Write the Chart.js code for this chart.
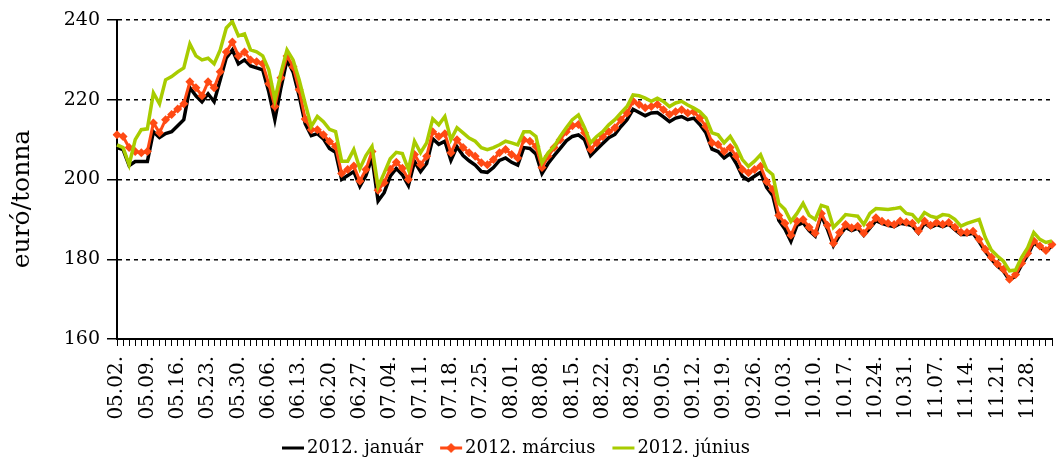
<!DOCTYPE html>
<html>
<head>
<meta charset="utf-8">
<script src="https://cdn.jsdelivr.net/npm/chart.js@4/dist/chart.umd.min.js"></script>
<style>
  html, body { margin: 0; padding: 0; background: #fff; }
  #wrap { width: 1063px; height: 463px; position: relative; }
</style>
</head>
<body>
<div id="wrap"><canvas id="chart"></canvas></div>
<script>
// weekly tick labels (one every 5 trading days)
const weekLabels = ['05.02.', '05.09.', '05.16.', '05.23.', '05.30.', '06.06.', '06.13.', '06.20.', '06.27.',
  '07.04.', '07.11.', '07.18.', '07.25.', '08.01.', '08.08.', '08.15.', '08.22.', '08.29.', '09.05.',
  '09.12.', '09.19.', '09.26.', '10.03.', '10.10.', '10.17.', '10.24.', '10.31.', '11.07.', '11.14.',
  '11.21.', '11.28.'];

const seriesNames = ['2012. január', '2012. március', '2012. június'];

// euró/tonna, daily closing prices
const januar = [
  208, 207.5, 203.5, 204.5, 204.5, 204.5, 212, 210.5, 211.5, 212,
  213.5, 215, 223, 221, 219.5, 221.5, 219.5, 225, 230.5, 232.5,
  229, 230, 228.5, 228, 227.5, 222, 215, 223, 230, 227,
  221, 214, 211, 211.5, 210.2, 207.8, 206.8, 200, 201, 202,
  198.3, 201, 205.5, 194.6, 196.7, 200.8, 202.8, 201.2, 198.5, 204.5,
  202, 204, 210.2, 208.8, 209.6, 204.8, 208.2, 206, 204.7, 203.6,
  202, 201.8, 203, 204.8, 205.4, 204.3, 203.6, 208, 207.8, 206.4,
  201.5, 204, 206, 207.8, 209.7, 210.8, 211.2, 210, 206, 207.5,
  209, 210.5, 211.3, 213.3, 215, 217.6, 216.8, 216, 216.7, 216.8,
  215.7, 214.5, 215.4, 215.8, 215, 215.4, 213.8, 211.7, 207.6, 207,
  205.4, 206.5, 204, 200.8, 199.8, 200.8, 201.8, 198, 196, 189.8,
  187.6, 184.5, 188.5, 189.2, 187.2, 185.8, 191, 187.6, 183.4, 186,
  188, 187.2, 187.8, 186, 187.8, 189.7, 189, 188.5, 188.2, 189,
  188.8, 188.4, 186.6, 189, 188, 188.7, 188.2, 188.8, 187.4, 186.2,
  186.2, 186.5, 184.4, 182, 180, 178.3, 177, 174.8, 175.8, 178.6,
  181, 184.2, 183, 182, 183.4
];

const marcius = [
  211.2, 210.8, 208, 207, 206.7, 207, 214.2, 211.7, 215, 216.3,
  217.7, 219, 224.5, 223, 221, 224.5, 223, 227, 232, 234.5,
  231, 232, 230, 229.5, 229, 224, 218.3, 225.5, 231, 228.3,
  222.5, 215.2, 212.5, 212.5, 211.2, 209.5, 208.3, 201.5, 202.5, 203.4,
  199.6, 202.5, 207, 197.3, 199.2, 202.6, 204.3, 202.8, 200, 206.3,
  203.7, 205.8, 212, 210.8, 211.5, 206.7, 210, 208, 206.7, 205.8,
  204.2, 203.7, 205, 206.7, 207.5, 206.3, 205.4, 210, 209.6, 208.3,
  203, 205.8, 208, 210, 212, 213.5, 213.8, 211.7, 207.5, 209.2,
  210.8, 212, 213, 215, 216.7, 219.6, 218.8, 218, 218.3, 218.8,
  217.5, 216.3, 217, 217.5, 216.7, 217, 215.4, 213.3, 209.2, 208.8,
  207, 208, 205.8, 202.5, 201.7, 202.5, 203.3, 199.5, 197.5, 191,
  189, 186, 189.5, 190, 188, 186.5, 191.5, 188.5, 184, 186.7,
  188.7, 187.9, 188.3, 186.5, 188.5, 190.4, 189.5, 189, 188.7, 189.6,
  189.3, 189, 187.1, 189.6, 188.5, 189.2, 188.8, 189.2, 188, 186.8,
  186.7, 187, 185, 182.5, 180.5, 178.8, 177.5, 175, 176.2, 179,
  181.5, 184.6, 183.3, 182.2, 183.7
];

const junius = [
  208.7, 208, 203.7, 210, 212.5, 212.7, 221.7, 219, 225, 225.8,
  227, 228, 234, 231, 230, 230.4, 229, 232.5, 238, 239.6,
  236, 236.5, 232.5, 232, 231, 227.5, 220, 226.7, 232.5, 230,
  225, 219, 213.3, 215.8, 214.5, 212.6, 212, 204.6, 204.6, 207.5,
  202.7, 206, 208.3, 198.2, 201.6, 205.2, 206.8, 206.5, 202.5, 209.6,
  206.7, 209.2, 215.2, 213.7, 215.8, 210, 213, 211.7, 210.4, 209.6,
  208, 207.5, 208, 208.7, 209.6, 209.2, 208.7, 212, 212, 210.8,
  204.2, 206.7, 208.3, 210.8, 213, 215, 216.2, 213, 209.2, 210.8,
  212, 213.7, 215, 216.7, 218.3, 221.2, 221, 220.4, 219.6, 220.4,
  219.6, 218.3, 219.2, 219.6, 218.7, 217.9, 217, 215.4, 211.7, 211.2,
  209.2, 210.8, 208.3, 205, 203.3, 204.6, 206.2, 202.5, 201.2, 194,
  192.5, 189.5, 191.5, 194, 191, 190, 193.5, 193, 188, 189.5,
  191.2, 191, 190.8, 188.7, 191.5, 192.7, 192.6, 192.5, 192.7, 193,
  191.5, 191.2, 189.5, 191.7, 190.8, 190.4, 191.2, 191, 190, 188.3,
  189, 189.5, 190, 185.5, 182.3, 180.8, 179.5, 177.1, 177.3, 180.5,
  182.9, 186.7, 185, 184.2, 184.6
];

const yTicks = [160, 180, 200, 220, 240];

const BLACK = '#000000';
const ORANGE = '#FF4A14';
const GREEN = '#A8CC00';
const FONT = 'DejaVu Serif';

// category for every trading day, label only on the weekly ones
const days = januar.map((v, i) => (i % 5 === 0 ? weekLabels[i / 5] : ''));

// legend icons: a short line (the middle one with a diamond), drawn in the right part
// of a wider canvas so the gap to the previous entry looks like the original
function legendIcon(color, diamond) {
  const c = document.createElement('canvas');
  c.width = 44; c.height = 12;
  const g = c.getContext('2d');
  g.fillStyle = color;
  g.fillRect(20, 4.5, 22, 3);
  if (diamond) {
    g.beginPath();
    g.moveTo(31, 1); g.lineTo(36, 6); g.lineTo(31, 11); g.lineTo(26, 6);
    g.closePath();
    g.fill();
  }
  return c;
}
const legendIcons = [legendIcon(BLACK, false), legendIcon(ORANGE, true), legendIcon(GREEN, false)];

// y axis title, placed a bit below the middle like the original
const axisTitle = {
  id: 'axisTitle',
  afterLayout(chart) {
    // nudge the legend a little left and down
    const lg = chart.legend;
    lg.left -= 16; lg.right -= 16;
    lg.top += 4; lg.bottom += 4;
  },
  afterDraw(chart) {
    const ctx = chart.ctx;
    ctx.save();
    ctx.translate(22, 199);
    ctx.rotate(-Math.PI / 2);
    ctx.font = '25px "' + FONT + '"';
    ctx.fillStyle = BLACK;
    ctx.textAlign = 'center';
    ctx.textBaseline = 'middle';
    ctx.fillText('euró/tonna', 0, 0);
    ctx.restore();
  }
};

new Chart(document.getElementById('chart'), {
  type: 'line',
  data: {
    labels: days,
    datasets: [
      {
        label: seriesNames[0],
        data: januar,
        borderColor: BLACK,
        backgroundColor: BLACK,
        borderWidth: 3.5,
        pointRadius: 0,
        order: 3
      },
      {
        label: seriesNames[1],
        data: marcius,
        borderColor: ORANGE,
        backgroundColor: ORANGE,
        borderWidth: 3,
        pointStyle: 'rectRot',
        pointRadius: 4.5,
        pointBorderWidth: 0,
        pointBackgroundColor: ORANGE,
        order: 2
      },
      {
        label: seriesNames[2],
        data: junius,
        borderColor: GREEN,
        backgroundColor: GREEN,
        borderWidth: 3.5,
        pointRadius: 0,
        order: 1
      }
    ]
  },
  options: {
    responsive: true,
    maintainAspectRatio: false,
    animation: false,
    layout: { padding: { left: 0, right: 11, top: 20, bottom: 0 } },
    plugins: {
      tooltip: { enabled: false },
      legend: {
        position: 'bottom',
        labels: {
          usePointStyle: true,
          pointStyleWidth: 28,
          padding: 5,
          color: BLACK,
          font: { family: FONT, size: 18 },
          sort: (a, b) => a.datasetIndex - b.datasetIndex,
          generateLabels(chart) {
            const items = Chart.defaults.plugins.legend.labels.generateLabels(chart);
            items.forEach(it => { it.pointStyle = legendIcons[it.datasetIndex]; });
            return items;
          }
        }
      }
    },
    scales: {
      x: {
        offset: false,
        afterFit(scale) {
          scale.height = 91;
          scale.paddingLeft = 0;
          scale.paddingRight = 0;
        },
        grid: {
          drawOnChartArea: false,
          drawTicks: true,
          tickLength: 7,
          color: BLACK,
          lineWidth: 1
        },
        border: { display: true, color: BLACK, width: 2 },
        ticks: {
          autoSkip: false,
          maxRotation: 90,
          minRotation: 90,
          padding: 10,
          color: BLACK,
          font: { family: FONT, size: 20 }
        }
      },
      y: {
        min: 160,
        max: 240,
        afterFit(scale) { scale.width = 117; },
        afterBuildTicks(scale) { scale.ticks = yTicks.map(v => ({ value: v })); },
        grid: {
          color: BLACK,
          lineWidth: 1.5,
          tickLength: 10,
          tickColor: BLACK,
          tickWidth: 1.5
        },
        border: { display: true, color: BLACK, width: 2, dash: [4, 4] },
        ticks: {
          padding: 7,
          color: BLACK,
          font: { family: FONT, size: 19 }
        }
      }
    }
  },
  plugins: [axisTitle]
});
</script>
</body>
</html>
